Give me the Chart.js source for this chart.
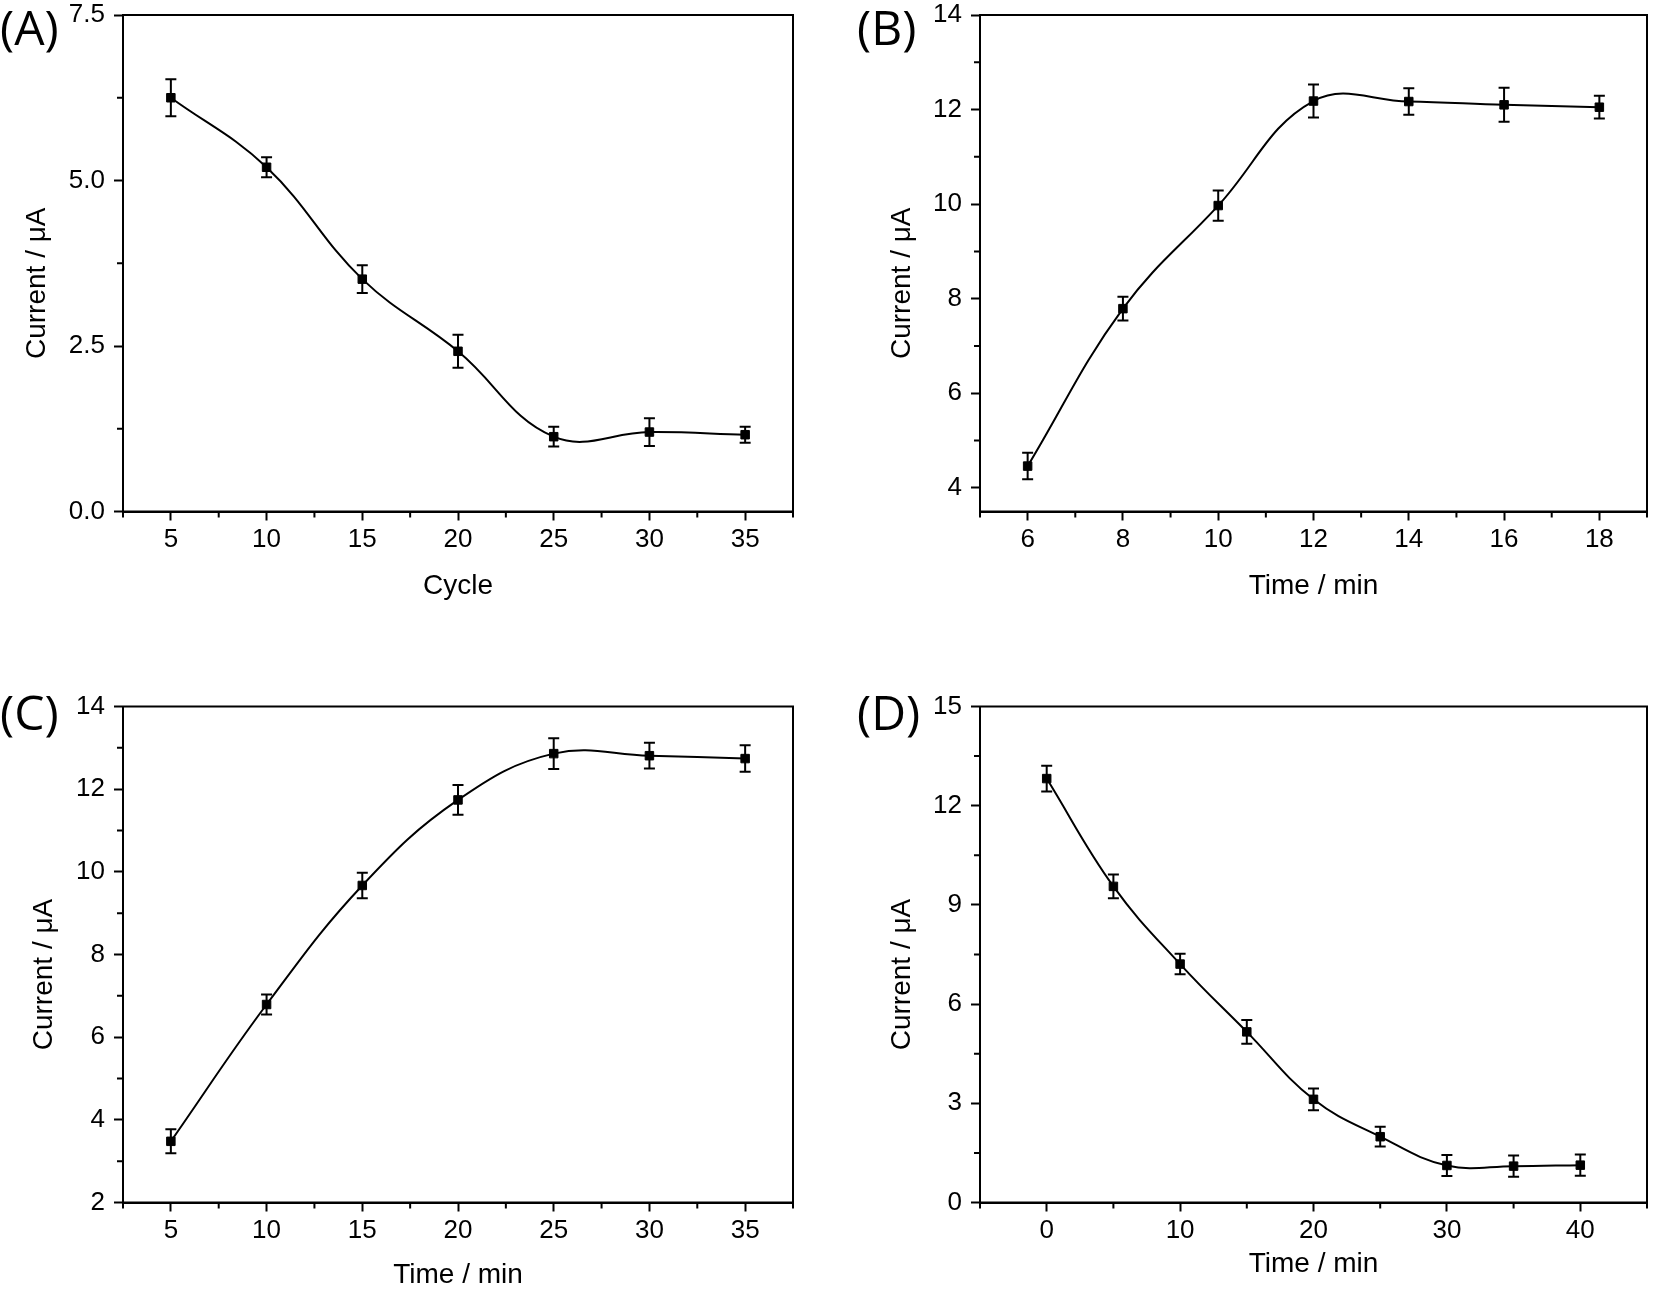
<!DOCTYPE html>
<html>
<head>
<meta charset="utf-8">
<script src="https://cdn.jsdelivr.net/npm/chart.js@4.4.0/dist/chart.umd.min.js"></script>
<style>
html,body{margin:0;padding:0;background:#fff;}
#wrap{position:relative;width:1654px;height:1294px;overflow:hidden;background:#fff;}
.pan{position:absolute;width:827px;height:647px;}
canvas{display:block;}
</style>
</head>
<body>
<div id="wrap">
  <div class="pan" style="left:0;top:0"><canvas id="cA" width="827" height="647"></canvas></div>
  <div class="pan" style="left:827px;top:0"><canvas id="cB" width="827" height="647"></canvas></div>
  <div class="pan" style="left:0;top:647px"><canvas id="cC" width="827" height="647"></canvas></div>
  <div class="pan" style="left:827px;top:647px"><canvas id="cD" width="827" height="647"></canvas></div>
</div>
<script>
// ---------- DATA ----------
const cycleA   = [5, 10, 15, 20, 25, 30, 35];
const currentA = [6.25, 5.20, 3.51, 2.42, 1.13, 1.20, 1.16];
const errorA   = [0.28, 0.15, 0.21, 0.25, 0.15, 0.21, 0.12];
const xTicksA  = [5, 10, 15, 20, 25, 30, 35];
const yTicksA  = [0, 2.5, 5, 7.5];

const timeB    = [6, 8, 10, 12, 14, 16, 18];
const currentB = [4.46, 7.79, 9.97, 12.18, 12.17, 12.10, 12.05];
const errorB   = [0.28, 0.25, 0.32, 0.35, 0.28, 0.36, 0.24];
const xTicksB  = [6, 8, 10, 12, 14, 16, 18];
const yTicksB  = [4, 6, 8, 10, 12, 14];

const timeC    = [5, 10, 15, 20, 25, 30, 35];
const currentC = [3.48, 6.79, 9.67, 11.74, 12.86, 12.81, 12.74];
const errorC   = [0.29, 0.24, 0.31, 0.36, 0.37, 0.31, 0.32];
const xTicksC  = [5, 10, 15, 20, 25, 30, 35];
const yTicksC  = [2, 4, 6, 8, 10, 12, 14];

const timeD    = [0, 5, 10, 15, 20, 25, 30, 35, 40];
const currentD = [12.82, 9.56, 7.21, 5.16, 3.12, 1.99, 1.12, 1.10, 1.13];
const errorD   = [0.39, 0.36, 0.31, 0.36, 0.33, 0.30, 0.32, 0.32, 0.32];
const xTicksD  = [0, 10, 20, 30, 40];
const yTicksD  = [0, 3, 6, 9, 12, 15];

const panelLabels = ['(A)', '(B)', '(C)', '(D)'];
const xTitles = ['Cycle', 'Time / min', 'Time / min', 'Time / min'];
const yTitle = 'Current / \u03bcA';

// ---------- DRAWING ----------
const TICK_FONT = {family: '"Liberation Sans", Arial, sans-serif', size: 26};
const TITLE_SIZE = 28;
const TITLE_LH = TITLE_SIZE * 1.2;

function minorValues(major, min, max) {
  const step = major[1] - major[0];
  const out = [];
  const first = major[0] - step / 2;
  for (let v = first; v <= max + 1e-9; v += step) {
    if (v >= min - 1e-9) out.push(v);
  }
  return out;
}

const decor = {
  id: 'decor',
  afterDraw(chart, args, o) {
    const ctx = chart.ctx, a = chart.chartArea;
    const xs = chart.scales.x, ys = chart.scales.y;
    ctx.save();
    ctx.strokeStyle = '#000';
    ctx.fillStyle = '#000';
    ctx.lineWidth = 2;
    // frame
    ctx.strokeRect(a.left, a.top, a.right - a.left, a.bottom - a.top);
    // minor ticks
    ctx.beginPath();
    minorValues(o.xMajor, xs.min, xs.max).forEach(v => {
      const px = xs.getPixelForValue(v);
      ctx.moveTo(px, a.bottom); ctx.lineTo(px, a.bottom + 6);
    });
    minorValues(o.yMajor, ys.min, ys.max).forEach(v => {
      const py = ys.getPixelForValue(v);
      ctx.moveTo(a.left, py); ctx.lineTo(a.left - 6, py);
    });
    ctx.stroke();
    // error bars
    const ds = chart.data.datasets[0];
    ctx.beginPath();
    ds.data.forEach((p, i) => {
      const e = o.err[i];
      const px = xs.getPixelForValue(p.x);
      const yt = ys.getPixelForValue(p.y + e);
      const yb = ys.getPixelForValue(p.y - e);
      ctx.moveTo(px, yt); ctx.lineTo(px, yb);
      ctx.moveTo(px - 5.5, yt); ctx.lineTo(px + 5.5, yt);
      ctx.moveTo(px - 5.5, yb); ctx.lineTo(px + 5.5, yb);
    });
    ctx.stroke();
    // y axis title
    ctx.save();
    ctx.font = TITLE_SIZE + 'px "Liberation Sans", Arial, sans-serif';
    ctx.textAlign = 'center';
    ctx.textBaseline = 'middle';
    ctx.translate(o.yTitleX, (a.top + a.bottom) / 2 + 20);
    ctx.rotate(-Math.PI / 2);
    ctx.fillText(o.yTitle, 0, 0);
    ctx.restore();
    // panel label
    ctx.font = '48px "Open Sans", "Noto Sans", sans-serif';
    ctx.textAlign = 'left';
    ctx.textBaseline = 'alphabetic';
    ctx.fillText(o.label, o.labelX, o.labelY);
    ctx.restore();
  }
};

function makeChart(id, xs, ys, errs, xTicks, yTicks, xMin, xMax, yMin, yMax, yDec, lay) {
  const W = 827, H = 647;
  const scaleBottom = lay.xTitleY + TITLE_LH / 2;
  const data = xs.map((x, i) => ({x: x, y: ys[i]}));
  return new Chart(document.getElementById(id), {
    type: 'line',
    data: {
      datasets: [{
        data: data,
        borderColor: '#000',
        borderWidth: 2,
        backgroundColor: '#000',
        pointStyle: 'rect',
        pointRadius: 6,
        pointBorderWidth: 1,
        pointBorderColor: '#000',
        pointBackgroundColor: '#000',
        tension: 0.4,
        fill: false
      }]
    },
    options: {
      responsive: false,
      animation: false,
      devicePixelRatio: 1,
      layout: {padding: {left: 0, top: lay.T, right: W - lay.R, bottom: H - scaleBottom}},
      plugins: {
        legend: {display: false},
        tooltip: {enabled: false},
        decor: {
          err: errs, xMajor: xTicks, yMajor: yTicks,
          yTitle: yTitle, yTitleX: lay.yTitleX,
          label: lay.label, labelX: lay.labelX, labelY: lay.labelY
        }
      },
      scales: {
        x: {
          type: 'linear',
          min: xMin, max: xMax,
          afterBuildTicks: s => { s.ticks = xTicks.map(v => ({value: v})); },
          afterFit: s => { s.height = scaleBottom - lay.B; s.paddingLeft = 0; s.paddingRight = 0; },
          grid: {display: true, drawOnChartArea: false, drawTicks: true, tickLength: 9, tickWidth: 2, tickColor: '#000'},
          border: {display: true, color: '#000', width: 2},
          ticks: {color: '#000', font: TICK_FONT, padding: 4, maxRotation: 0, autoSkip: false,
                  callback: v => String(v)},
          title: {display: true, text: lay.xTitle, color: '#000', padding: 0,
                  font: {family: '"Liberation Sans", Arial, sans-serif', size: TITLE_SIZE}}
        },
        y: {
          type: 'linear',
          min: yMin, max: yMax,
          afterBuildTicks: s => { s.ticks = yTicks.map(v => ({value: v})); },
          afterFit: s => { s.width = lay.L; s.paddingTop = 0; s.paddingBottom = 0; },
          grid: {display: true, drawOnChartArea: false, drawTicks: true, tickLength: 9, tickWidth: 2, tickColor: '#000'},
          border: {display: true, color: '#000', width: 2},
          ticks: {color: '#000', font: TICK_FONT, padding: 9, autoSkip: false,
                  callback: v => yDec ? Number(v).toFixed(yDec) : String(v)},
          title: {display: false}
        }
      }
    },
    plugins: [decor]
  });
}

makeChart('cA', cycleA, currentA, errorA, xTicksA, yTicksA, 2.5, 37.5, 0, 7.5, 1,
  {L: 123, R: 793, T: 15, B: 511.5, xTitleY: 586, xTitle: xTitles[0], yTitleX: 37, label: panelLabels[0], labelX: 0, labelY: 45});
makeChart('cB', timeB, currentB, errorB, xTicksB, yTicksB, 5, 19, 3.5, 14, 0,
  {L: 153, R: 823, T: 15, B: 511.5, xTitleY: 586, xTitle: xTitles[1], yTitleX: 75, label: panelLabels[1], labelX: 30, labelY: 45});
makeChart('cC', timeC, currentC, errorC, xTicksC, yTicksC, 2.5, 37.5, 2, 14, 0,
  {L: 123, R: 793, T: 59.5, B: 555.5, xTitleY: 628, xTitle: xTitles[2], yTitleX: 44, label: panelLabels[2], labelX: 0, labelY: 83});
makeChart('cD', timeD, currentD, errorD, xTicksD, yTicksD, -5, 45, 0, 15, 0,
  {L: 153, R: 823, T: 59.5, B: 555.5, xTitleY: 617, xTitle: xTitles[3], yTitleX: 75, label: panelLabels[3], labelX: 30, labelY: 83});
</script>
</body>
</html>
